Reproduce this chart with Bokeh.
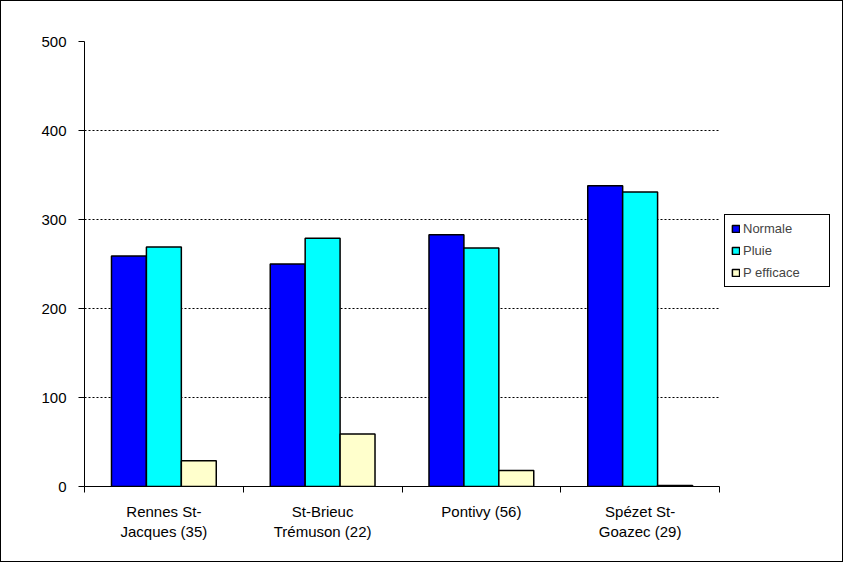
from bokeh.plotting import figure
from bokeh.models import (ColumnDataSource, FixedTicker, Range1d,
                          Legend, LegendItem)
from bokeh.embed import file_html
from bokeh.resources import INLINE

stations = ["Rennes St-\nJacques (35)", "St-Brieuc\nTrémuson (22)",
            "Pontivy (56)", "Spézet St-\nGoazec (29)"]
normale = [259, 250, 283, 338]
pluie = [269, 279, 268, 331]
p_efficace = [29, 59, 18, 1]

series = [("Normale", normale, "#0000FF"),
          ("Pluie", pluie, "#00FFFF"),
          ("P efficace", p_efficace, "#FFFFCC")]

FONT = "Liberation Sans"
W, H = 843, 562
LEFT, RIGHT = 83, 3
n = len(stations)
x_end = n + (W - RIGHT - 718) / ((718 - LEFT) / n)

p = figure(width=W, height=H, output_backend="svg", toolbar_location=None,
           x_range=Range1d(0, x_end), y_range=Range1d(0, 500),
           min_border_left=LEFT, min_border_right=RIGHT, min_border_top=40,
           min_border_bottom=77)
p.outline_line_color = None
p.background_fill_color = "white"
p.styles = {"border": "1px solid black"}

bar_w = 0.22
items = []
for k, (name, vals, col) in enumerate(series):
    src = ColumnDataSource(dict(x=[i + 0.5 + (k - 1) * bar_w for i in range(len(vals))],
                                top=vals))
    r = p.vbar(x="x", top="top", width=bar_w, bottom=0, source=src,
               fill_color=col, line_color="black", line_width=1.5)
    items.append(LegendItem(label=name, renderers=[r]))

# x axis: labels at centres, ticks between categories
xa = p.xaxis[0]
xa.bounds = (0, n)
xa.ticker = FixedTicker(ticks=[i + 0.5 for i in range(n)], minor_ticks=list(range(n + 1)))
xa.major_label_overrides = {i + 0.5: s for i, s in enumerate(stations)}
xa.major_tick_line_color = None
xa.minor_tick_in = 0
xa.minor_tick_out = 6
xa.minor_tick_line_color = "black"
xa.axis_line_color = "black"
xa.major_label_text_font = FONT
xa.major_label_text_font_size = "15px"
xa.major_label_text_color = "black"
xa.major_label_standoff = 10

ya = p.yaxis[0]
ya.ticker = FixedTicker(ticks=[0, 100, 200, 300, 400, 500])
ya.minor_tick_line_color = None
ya.major_tick_in = 0
ya.major_tick_out = 6
ya.axis_line_color = "black"
ya.major_tick_line_color = "black"
ya.major_label_text_font = FONT
ya.major_label_text_font_size = "15px"
ya.major_label_text_color = "black"
ya.major_label_standoff = 12

p.xgrid.grid_line_color = None
p.ygrid.ticker = FixedTicker(ticks=[100, 200, 300, 400, 500])
p.ygrid.cross_bounds = (0, n)
p.ygrid.grid_line_color = "black"
p.ygrid.grid_line_dash = "2 2"
p.ygrid.grid_line_width = 1

legend = Legend(items=items, location=(640, 199), label_text_font=FONT,
                label_text_font_size="13px", glyph_width=9, glyph_height=9,
                label_height=14, label_width=80, spacing=7, padding=6, margin=0,
                label_standoff=3, border_line_color="black", border_line_alpha=1.0,
                background_fill_alpha=1.0)
p.add_layout(legend, "center")

open("out.html", "w").write(file_html(p, INLINE))
